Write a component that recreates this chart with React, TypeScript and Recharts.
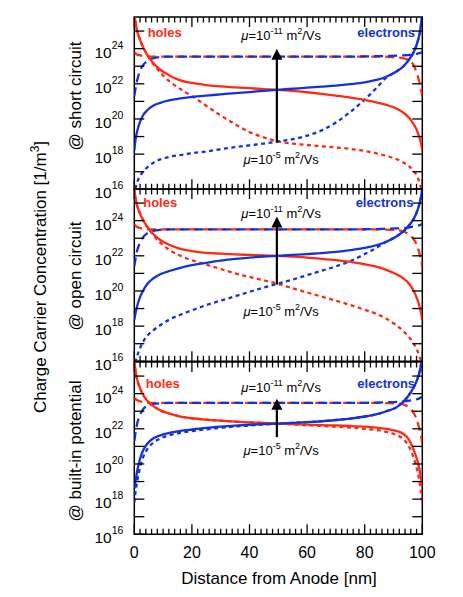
import { LineChart, Line, XAxis, YAxis, ReferenceArea, ReferenceLine, ReferenceDot } from "recharts";

const RED = "#ff2a14";
const BLUE = "#1432dc";
const FONT = "'Liberation Sans', Arial, Helvetica, sans-serif";

// distance from anode [nm]
const xNm = [0, 0.5, 1, 2, 3, 4.5, 6.5, 9, 12.5, 16, 20, 25, 30, 35, 40, 45, 50, 55, 60, 65, 70, 75, 80, 84, 87.5, 91, 93.5, 95.5, 97, 98, 99, 99.5, 100];

// log10 of carrier concentration [1/m^3]
// "fast" = mu 1e-5 (short dash), "mid" = solid, "slow" = mu 1e-11 (long dash)

// @ short circuit
const scHolesMid = [26.0, 25.4, 25.0, 24.5, 24.1, 23.65, 23.2, 22.8, 22.45, 22.2, 22.05, 21.93, 21.85, 21.8, 21.75, 21.7, 21.66, 21.6, 21.52, 21.43, 21.33, 21.22, 21.08, 20.95, 20.8, 20.6, 20.35, 20.05, 19.7, 19.4, 18.95, 18.65, 18.2];
const scElecMid = [18.2, 18.9, 19.3, 19.85, 20.2, 20.5, 20.75, 20.92, 21.07, 21.17, 21.25, 21.33, 21.4, 21.47, 21.53, 21.6, 21.66, 21.72, 21.78, 21.84, 21.9, 21.98, 22.08, 22.22, 22.4, 22.7, 23.0, 23.4, 23.8, 24.2, 24.8, 25.3, 26.0];
const scHolesFast = [26.0, 25.4, 25.0, 24.5, 24.1, 23.65, 23.15, 22.65, 22.1, 21.7, 21.3, 20.75, 20.2, 19.7, 19.25, 18.95, 18.72, 18.6, 18.52, 18.45, 18.38, 18.3, 18.18, 18.05, 17.9, 17.72, 17.52, 17.3, 17.05, 16.8, 16.4, 16.1, 15.6];
const scElecFast = [15.6, 16.1, 16.4, 16.75, 17.0, 17.25, 17.5, 17.7, 17.85, 17.95, 18.05, 18.15, 18.28, 18.4, 18.5, 18.6, 18.72, 18.85, 19.05, 19.35, 19.8, 20.4, 21.1, 21.75, 22.35, 22.7, 23.0, 23.4, 23.8, 24.2, 24.8, 25.3, 26.0];
const scHolesSlow = [23.8, 23.72, 23.66, 23.62, 23.59, 23.57, 23.55, 23.55, 23.55, 23.55, 23.55, 23.55, 23.55, 23.55, 23.55, 23.55, 23.55, 23.55, 23.55, 23.55, 23.55, 23.55, 23.55, 23.55, 23.54, 23.5, 23.45, 23.33, 23.05, 22.65, 22.1, 21.75, 21.3];
const scElecSlow = [21.3, 21.8, 22.2, 22.75, 23.05, 23.3, 23.45, 23.52, 23.55, 23.55, 23.55, 23.55, 23.55, 23.55, 23.55, 23.55, 23.55, 23.55, 23.55, 23.55, 23.55, 23.55, 23.56, 23.57, 23.58, 23.6, 23.62, 23.64, 23.67, 23.7, 23.74, 23.77, 23.82];

// @ open circuit
const ocHolesMid = [25.8, 25.2, 24.85, 24.4, 24.05, 23.65, 23.25, 22.9, 22.6, 22.4, 22.27, 22.17, 22.12, 22.08, 22.05, 22.02, 22.0, 21.95, 21.9, 21.83, 21.75, 21.65, 21.52, 21.38, 21.2, 20.95, 20.7, 20.4, 20.0, 19.65, 19.15, 18.8, 18.35];
const ocElecMid = [18.35, 18.8, 19.15, 19.65, 20.0, 20.4, 20.7, 20.95, 21.15, 21.32, 21.47, 21.6, 21.72, 21.82, 21.9, 21.96, 22.0, 22.05, 22.1, 22.15, 22.22, 22.32, 22.45, 22.6, 22.8, 23.1, 23.4, 23.75, 24.1, 24.45, 24.95, 25.3, 25.8];
const ocHolesFast = [25.8, 25.2, 24.85, 24.4, 24.05, 23.65, 23.2, 22.75, 22.3, 22.0, 21.75, 21.5, 21.25, 21.0, 20.8, 20.6, 20.4, 20.15, 19.92, 19.68, 19.45, 19.2, 18.93, 18.7, 18.42, 18.05, 17.7, 17.35, 17.0, 16.7, 16.3, 16.0, 15.5];
const ocElecFast = [15.5, 16.0, 16.3, 16.75, 17.1, 17.45, 17.75, 18.05, 18.4, 18.65, 18.9, 19.2, 19.45, 19.7, 19.95, 20.2, 20.42, 20.65, 20.9, 21.15, 21.4, 21.7, 22.1, 22.45, 22.8, 23.1, 23.4, 23.75, 24.1, 24.45, 24.95, 25.3, 25.8];
const ocHolesSlow = [23.78, 23.7, 23.64, 23.58, 23.54, 23.51, 23.5, 23.5, 23.5, 23.5, 23.5, 23.5, 23.5, 23.5, 23.5, 23.5, 23.5, 23.5, 23.5, 23.5, 23.5, 23.5, 23.5, 23.5, 23.49, 23.46, 23.38, 23.2, 22.95, 22.65, 22.15, 21.8, 21.4];
const ocElecSlow = [21.4, 21.9, 22.3, 22.75, 23.05, 23.28, 23.42, 23.48, 23.5, 23.5, 23.5, 23.5, 23.5, 23.5, 23.5, 23.5, 23.5, 23.5, 23.5, 23.5, 23.5, 23.5, 23.51, 23.52, 23.54, 23.56, 23.58, 23.62, 23.66, 23.7, 23.74, 23.77, 23.8];

// @ built-in potential
const biHolesMid = [25.9, 25.2, 24.8, 24.3, 23.95, 23.6, 23.3, 23.05, 22.85, 22.7, 22.6, 22.52, 22.46, 22.41, 22.37, 22.33, 22.3, 22.27, 22.24, 22.21, 22.19, 22.16, 22.12, 22.07, 22.0, 21.88, 21.7, 21.35, 20.8, 20.35, 19.7, 19.2, 18.7];
const biElecMid = [18.6, 19.1, 19.6, 20.3, 20.75, 21.15, 21.45, 21.63, 21.78, 21.88, 21.96, 22.05, 22.12, 22.18, 22.23, 22.27, 22.3, 22.34, 22.38, 22.43, 22.5, 22.58, 22.7, 22.82, 23.0, 23.22, 23.55, 23.95, 24.35, 24.7, 25.2, 25.6, 26.0];
const biHolesFast = [25.9, 25.2, 24.8, 24.3, 23.95, 23.6, 23.3, 23.05, 22.85, 22.7, 22.6, 22.52, 22.46, 22.41, 22.37, 22.33, 22.29, 22.25, 22.2, 22.16, 22.12, 22.07, 22.0, 21.93, 21.83, 21.65, 21.4, 20.95, 20.35, 19.8, 19.0, 18.5, 17.8];
const biElecFast = [17.8, 18.5, 19.0, 19.8, 20.35, 20.85, 21.2, 21.45, 21.65, 21.77, 21.87, 21.97, 22.06, 22.13, 22.19, 22.25, 22.29, 22.34, 22.38, 22.43, 22.5, 22.58, 22.7, 22.82, 23.0, 23.22, 23.55, 23.95, 24.35, 24.7, 25.2, 25.6, 26.0];
const biHolesSlow = [23.75, 23.68, 23.62, 23.56, 23.52, 23.49, 23.47, 23.47, 23.47, 23.47, 23.47, 23.47, 23.47, 23.47, 23.47, 23.47, 23.47, 23.47, 23.47, 23.47, 23.47, 23.47, 23.47, 23.47, 23.46, 23.44, 23.38, 23.2, 22.9, 22.55, 22.0, 21.65, 21.2];
const biElecSlow = [21.3, 21.85, 22.3, 22.8, 23.1, 23.3, 23.4, 23.45, 23.47, 23.47, 23.47, 23.47, 23.47, 23.47, 23.47, 23.47, 23.47, 23.47, 23.47, 23.47, 23.47, 23.47, 23.48, 23.49, 23.51, 23.53, 23.56, 23.6, 23.64, 23.68, 23.73, 23.78, 23.84];

const xTicks = [0, 2, 4, 6, 8, 10, 12, 14, 16, 18, 20, 22, 24, 26, 28, 30, 32, 34, 36, 38, 40, 42, 44, 46, 48, 50, 52, 54, 56, 58, 60, 62, 64, 66, 68, 70, 72, 74, 76, 78, 80, 82, 84, 86, 88, 90, 92, 94, 96, 98, 100];
const yExponents = [16, 17, 18, 19, 20, 21, 22, 23, 24, 25];
const yTicks = yExponents.map((e) => 10 ** e);
const Y_MIN = 1e16;
const Y_MAX = 10 ** 25.8;

const PLOT_LEFT = 134.3;
const PLOT_RIGHT = 422.3;
const PLOT_H = 172.3;
const CHART_W = 463;
const PAD = 10;

function buildRows(s: Record<string, number[]>) {
  return xNm.map((x, i) => {
    const row: Record<string, number> = { x };
    for (const k of Object.keys(s)) row[k] = 10 ** s[k][i];
    return row;
  });
}

function YTick(props: any) {
  const { x, y, payload } = props;
  const e = Math.round(Math.log10(payload.value));
  return (
    <g>
      <line x1={x} x2={x + 10} y1={y} y2={y} stroke="#000" strokeWidth={1.3} />
      <line x1={PLOT_RIGHT} x2={PLOT_RIGHT - 10} y1={y} y2={y} stroke="#000" strokeWidth={1.3} />
      {e % 2 === 0 && (
        <text x={x - 11} y={y + 9} textAnchor="end" fontSize={15.5} fill="#000">
          10<tspan dy={-9} fontSize={10.5}>{e}</tspan>
        </text>
      )}
    </g>
  );
}

function XTick(props: any) {
  const { x, y, payload, last } = props;
  const major = payload.value % 20 === 0;
  const len = major ? 10 : 5.5;
  return (
    <g>
      <line x1={x} x2={x} y1={y} y2={y - len} stroke="#000" strokeWidth={1.3} />
      <line x1={x} x2={x} y1={PAD} y2={PAD + len} stroke="#000" strokeWidth={1.3} />
      {last && major && (
        <text x={x} y={y + 23.5} textAnchor="middle" fontSize={16} fill="#000">
          {payload.value}
        </text>
      )}
    </g>
  );
}

function MuLabel({ cx, cy, exp }: any) {
  return (
    <text x={cx} y={cy} textAnchor="middle" fontSize={13} fill="#000">
      <tspan fontStyle="italic">μ</tspan>=10<tspan dy={-6} fontSize={9}>{exp}</tspan>
      <tspan dy={6}> m</tspan>
      <tspan dy={-6} fontSize={9}>2</tspan>
      <tspan dy={6}>/Vs</tspan>
    </text>
  );
}

type Ann = {
  holes: [number, number];
  electrons: [number, number];
  muTop: number;
  muBottom: number;
  arrowFrom: number;
  arrowTo: number;
};

function Panel({ top, rows, ann, last }: { top: number; rows: any[]; ann: Ann; last?: boolean }) {
  const bottomPad = last ? 70 : 24;
  const height = PAD + PLOT_H + bottomPad;
  const line = (key: string, color: string, dash?: string) => (
    <Line
      key={key}
      dataKey={key}
      type="monotone"
      stroke={color}
      strokeWidth={2.3}
      strokeDasharray={dash}
      dot={false}
      activeDot={false}
      isAnimationActive={false}
    />
  );
  return (
    <div style={{ position: "absolute", left: 0, top: top - PAD }}>
      <LineChart
        width={CHART_W}
        height={height}
        data={rows}
        margin={{ top: PAD, right: CHART_W - PLOT_RIGHT, bottom: bottomPad - 1, left: PLOT_LEFT - 1 }}
      >
        <XAxis
          dataKey="x"
          type="number"
          domain={[0, 100]}
          ticks={xTicks}
          interval={0}
          height={1}
          tickSize={0}
          tickMargin={0}
          axisLine={false}
          tickLine={false}
          tick={(p: any) => <XTick {...p} last={last} />}
          allowDataOverflow
        />
        <YAxis
          type="number"
          scale="log"
          domain={[Y_MIN, Y_MAX]}
          ticks={yTicks}
          interval={0}
          width={1}
          tickSize={0}
          tickMargin={0}
          axisLine={false}
          tickLine={false}
          tick={(p: any) => <YTick {...p} />}
          allowDataOverflow
        />
        <ReferenceArea x1={0} x2={100} y1={Y_MIN} y2={Y_MAX} fill="none" stroke="#000" strokeWidth={1.5} ifOverflow="visible" />
        {line("hSlow", RED, "9 5")}
        {line("eSlow", BLUE, "9 5")}
        {line("hFast", RED, "4 3.5")}
        {line("eFast", BLUE, "4 3.5")}
        {line("hMid", RED)}
        {line("eMid", BLUE)}
        <ReferenceLine
          segment={[
            { x: 49.5, y: 10 ** ann.arrowFrom },
            { x: 49.5, y: 10 ** (ann.arrowTo - 0.4) },
          ]}
          stroke="#000"
          strokeWidth={2.2}
          ifOverflow="visible"
        />
        <ReferenceDot
          x={49.5}
          y={10 ** ann.arrowTo}
          r={0}
          ifOverflow="visible"
          shape={(p: any) => (
            <polygon points={`${p.cx},${p.cy} ${p.cx - 5.5},${p.cy + 11} ${p.cx + 5.5},${p.cy + 11}`} fill="#000" />
          )}
        />
        <ReferenceDot
          x={ann.holes[0]}
          y={10 ** ann.holes[1]}
          r={0}
          ifOverflow="visible"
          shape={(p: any) => (
            <text x={p.cx} y={p.cy} fontSize={13} fontWeight="bold" fill={RED}>holes</text>
          )}
        />
        <ReferenceDot
          x={ann.electrons[0]}
          y={10 ** ann.electrons[1]}
          r={0}
          ifOverflow="visible"
          shape={(p: any) => (
            <text x={p.cx} y={p.cy} fontSize={13} fontWeight="bold" textAnchor="end" fill={BLUE}>electrons</text>
          )}
        />
        <ReferenceDot x={51} y={10 ** ann.muTop} r={0} ifOverflow="visible" shape={(p: any) => <MuLabel {...p} exp="-11" />} />
        <ReferenceDot x={51} y={10 ** ann.muBottom} r={0} ifOverflow="visible" shape={(p: any) => <MuLabel {...p} exp="-5" />} />
      </LineChart>
    </div>
  );
}

const scRows = buildRows({ hMid: scHolesMid, eMid: scElecMid, hFast: scHolesFast, eFast: scElecFast, hSlow: scHolesSlow, eSlow: scElecSlow });
const ocRows = buildRows({ hMid: ocHolesMid, eMid: ocElecMid, hFast: ocHolesFast, eFast: ocElecFast, hSlow: ocHolesSlow, eSlow: ocElecSlow });
const biRows = buildRows({ hMid: biHolesMid, eMid: biElecMid, hFast: biHolesFast, eFast: biElecFast, hSlow: biHolesSlow, eSlow: biElecSlow });

export default function App() {
  return (
    <div style={{ position: "absolute", left: 0, top: 0, width: 463, height: 597, background: "#fff", fontFamily: FONT }}>
      <svg width={463} height={597} style={{ position: "absolute", left: 0, top: 0 }}>
        <text transform="translate(46,277) rotate(-90)" textAnchor="middle" fontSize={17} fill="#000">
          Charge Carrier Concentration [1/m<tspan dy={-7} fontSize={12}>3</tspan><tspan dy={7}>]</tspan>
        </text>
        <text transform="translate(81,96) rotate(-90)" textAnchor="middle" fontSize={17} fill="#000">@ short circuit</text>
        <text transform="translate(81,276) rotate(-90)" textAnchor="middle" fontSize={17} fill="#000">@ open circuit</text>
        <text transform="translate(81,451) rotate(-90)" textAnchor="middle" fontSize={17} fill="#000">@ built-in potential</text>
        <text x={279} y={584} textAnchor="middle" fontSize={17} fill="#000">Distance from Anode [nm]</text>
      </svg>
      <Panel
        top={17}
        rows={scRows}
        ann={{ holes: [4.65, 24.66], electrons: [97.5, 24.66], muTop: 24.47, muBottom: 17.45, arrowFrom: 18.66, arrowTo: 24.0 }}
      />
      <Panel
        top={17 + PLOT_H}
        rows={ocRows}
        ann={{ holes: [3.1, 24.8], electrons: [96.9, 24.8], muTop: 24.15, muBottom: 18.56, arrowFrom: 20.36, arrowTo: 24.24 }}
      />
      <Panel
        top={17 + 2 * PLOT_H}
        rows={biRows}
        last
        ann={{ holes: [4.0, 24.3], electrons: [97.5, 24.3], muTop: 24.1, muBottom: 20.5, arrowFrom: 21.53, arrowTo: 23.71 }}
      />
    </div>
  );
}
